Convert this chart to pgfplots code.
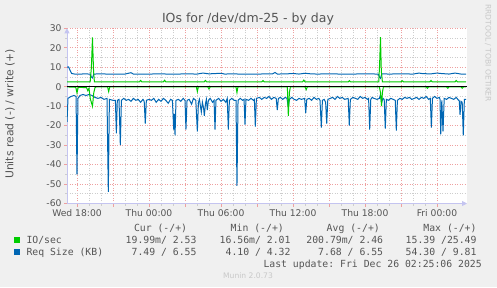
\documentclass[border=0pt]{standalone}
\usepackage{pgfplots}
\pgfplotsset{compat=1.18}
\usetikzlibrary{arrows.meta}
\usepackage{fontspec}
\setmainfont{DejaVu Sans}
\setmonofont{DejaVu Sans Mono}
\definecolor{bg}{HTML}{F0F0F0}
\definecolor{iogreen}{HTML}{00CC00}
\definecolor{reqblue}{HTML}{0066B3}
\definecolor{mgrid}{RGB}{238,160,160}
\definecolor{ngrid}{RGB}{205,205,205}
\definecolor{axblue}{RGB}{196,196,240}
\definecolor{txt}{RGB}{85,85,85}
\definecolor{faint}{RGB}{200,200,200}

\pgfplotstableread{
x y
-0.83 -18
-0.75 -6
-0.5 -5
-0.25 -4.5
-0.08 -5
0.0 -45
0.08 -6
0.25 -4.5
0.5 -4
0.75 -4.5
1.0 -4
1.25 -4.5
1.5 -5.5
1.75 -6
2.0 -5.5
2.25 -6.5
2.5 -6
2.61 -54
2.7 -6.5
3.0 -7
3.2 -7
3.28 -24
3.36 -7
3.5 -6.5
3.61 -30
3.7 -7
3.9 -6
4.1 -7
4.3 -6.5
4.5 -7.5
4.7 -6
4.9 -7
5.1 -6.5
5.3 -8
5.5 -6.5
5.6 -7.5
5.69 -19
5.78 -7
6.0 -6.5
6.2 -7
6.4 -6
6.6 -8
6.8 -6.5
7.0 -7.5
7.2 -6
7.4 -7
7.6 -8.5
7.8 -6.5
7.95 -7
8.06 -22
8.12 -14
8.17 -25
8.25 -7
8.45 -6.5
8.65 -7.5
8.85 -6
9.0 -7
9.08 -22
9.17 -7
9.35 -6.5
9.55 -9
9.7 -6
9.9 -7
10.03 -23
10.12 -8
10.2 -6.5
10.36 -13
10.45 -8
10.55 -11
10.61 -15
10.7 -9
10.78 -6.5
10.86 -12
10.95 -7
11.1 -6
11.3 -8
11.42 -7
11.5 -22
11.58 -7
11.8 -6
12.0 -7.5
12.2 -6.5
12.4 -8
12.52 -6
12.61 -22
12.7 -7
12.9 -6
13.1 -7
13.25 -7
13.33 -51
13.42 -7
13.6 -6
13.8 -7
13.92 -6.5
14.0 -19.5
14.08 -6.5
14.3 -7
14.5 -6
14.7 -7
14.78 -6.5
14.86 -20.5
14.95 -6
15.2 -5.5
15.4 -6.5
15.6 -5.5
15.8 -6
16.0 -5
16.2 -6.5
16.4 -5.5
16.6 -6
16.69 -12
16.78 -6
16.95 -5.5
17.15 -6.5
17.35 -5.5
17.5 -6
17.61 -10.5
17.7 -6.5
17.9 -5.5
18.1 -6.5
18.3 -7
18.5 -6
18.7 -6.5
18.97 -6
19.06 -13.5
19.15 -6.5
19.35 -6
19.55 -7
19.75 -5.5
19.95 -6.5
20.15 -6
20.25 -7
20.36 -21
20.45 -7
20.6 -6.5
20.72 -8
20.81 -19
20.9 -6.5
21.1 -6
21.3 -5.5
21.5 -6.5
21.7 -5
21.9 -6
22.1 -5.5
22.3 -6.5
22.6 -6
22.69 -20
22.78 -6.5
23.0 -5.5
23.2 -6
23.4 -6.5
23.6 -5
23.8 -6
24.0 -5.5
24.2 -6.5
24.3 -6
24.39 -22
24.48 -6.5
24.6 -5.5
24.75 -6
25.0 -6.5
25.2 -6
25.29 -4
25.38 -8
25.5 -6
25.6 -6.5
25.69 -21.5
25.78 -6.5
25.95 -7
26.15 -6
26.35 -6.5
26.52 -7
26.61 -22.5
26.7 -7
26.9 -6
27.1 -6.5
27.3 -5.5
27.5 -6
27.7 -5.5
27.9 -6.5
28.1 -6
28.3 -5.5
28.5 -6.5
28.7 -5.5
28.9 -6
29.1 -5
29.3 -6.5
29.44 -6
29.53 -21
29.62 -6
29.8 -5
30.0 -6
30.2 -5.5
30.25 -6.5
30.31 -24.5
30.4 -7
30.5 -23
30.6 -6
30.8 -6.5
31.0 -5.5
31.2 -6
31.4 -6.5
31.6 -5.5
31.8 -7
31.85 -7
31.92 -14.5
32.0 -7.5
32.1 -8
32.19 -25
32.28 -6.5
32.42 -6.5
}\reqread

\pgfplotstableread{
x y
-0.83 10
-0.7 10.2
-0.55 8
-0.45 6.8
-0.2 6.5
0.3 6.5
0.8 6.6
1.1 6.4
1.2 5
1.29 4.5
1.4 6.5
2.0 6.6
3.0 6.4
4.0 6.5
4.5 7.2
4.7 6.5
6.0 6.5
7.0 6.6
8.0 6.4
9.0 6.6
10.0 6.5
10.5 7.0
11.0 6.6
12.0 6.9
12.3 6.5
13.0 6.6
14.0 6.4
15.0 6.5
16.3 6.6
16.5 7.3
16.7 6.5
17.5 6.6
18.0 6.8
18.5 6.5
19.0 6.9
19.5 6.6
20.0 6.5
21.0 6.6
22.0 6.5
23.0 6.5
24.0 6.6
25.1 6.5
25.2 5
25.29 4.3
25.4 6.6
26.0 6.5
27.0 6.6
28.0 6.5
28.5 7.0
28.8 6.7
29.5 6.6
30.0 7.0
30.3 6.8
31.0 6.5
31.5 7.0
32.0 6.5
32.42 6.5
}\reqwrite

\pgfplotstableread{
x y
-0.83 2.5
1.1 2.5
1.2 10
1.29 25.3
1.38 8
1.45 2.5
5.2 2.5
5.3 3.2
5.4 2.5
7.2 2.5
7.3 3.3
7.4 2.5
10.6 2.5
10.7 3.2
10.8 2.5
15.4 2.5
15.5 3.1
15.6 2.5
18.8 2.5
18.9 3.4
19.0 2.5
22.6 2.5
22.7 3.1
22.8 2.5
25.15 2.5
25.22 12
25.29 25.5
25.36 8
25.45 2.5
27.0 2.5
27.1 3.1
27.2 2.5
29.4 2.5
29.5 3.2
29.6 2.5
31.5 2.5
31.6 3.2
31.7 2.5
32.42 2.5
}\iowrite

\pgfplotstableread{
x y
-0.83 -0.1
-0.1 -0.3
0.0 -3.3
0.1 -0.3
0.8 -0.5
0.9 -2
1.0 -0.8
1.1 -6
1.29 -10
1.4 -3
1.5 -0.5
1.6 -0.1
2.55 -0.1
2.64 -2.5
2.73 -0.1
9.95 -0.1
10.03 -2.5
10.11 -0.1
10.9 -0.1
11.0 -1.2
11.1 -0.1
13.25 -0.1
13.33 -3
13.41 -0.1
17.53 -0.1
17.61 -15
17.7 -3
17.78 -0.1
19.0 -0.1
19.1 -1.5
19.2 -0.1
25.2 -0.1
25.29 -3
25.38 -10
25.45 -3
25.53 -0.1
29.1 -0.1
29.2 -0.8
29.3 -0.1
30.8 -0.1
30.9 -0.8
31.0 -0.1
32.0 -0.1
32.1 -0.8
32.2 -0.1
32.42 -0.1
}\ioread

\begin{document}
\begin{tikzpicture}
\fill[bg] (0pt,0pt) rectangle (497pt,287pt);
\useasboundingbox (0pt,0pt) rectangle (497pt,287pt);
\begin{axis}[
  at={(67pt,83.5pt)}, anchor=south west,
  scale only axis, width=400pt, height=175.2pt,
  xmin=-0.833, xmax=32.5, ymin=-60, ymax=30,
  axis background/.style={fill=white},
  axis x line=bottom, axis y line=left,
  axis line style={draw=axblue, line width=0.8pt},
  x axis line style={-{Triangle[length=5pt,width=5pt]}},
  y axis line style={-{Triangle[length=5pt,width=5pt]}},
  xtick={0,3,...,30},
  xticklabels={Wed 18:00,,Thu 00:00,,Thu 06:00,,Thu 12:00,,Thu 18:00,,Fri 00:00},
  minor x tick num=2,
  ytick={-60,-50,...,30},
  yticklabels={-60,-50,-40,-30,-20,-10,0,10,20,30},
  minor y tick num=1,
  grid=both,
  major grid style={draw=mgrid, line width=0.6pt, dash pattern=on 1pt off 1.5pt},
  minor grid style={draw=ngrid, line width=0.6pt, dash pattern=on 1pt off 1.5pt},
  tick align=outside,
  major tick length=3pt, minor tick length=2pt,
  major tick style={draw=mgrid, line width=0.6pt},
  minor tick style={draw=ngrid, line width=0.6pt},
  tick label style={font=\fontsize{9.2}{10}\selectfont, text=txt},
  yticklabel style={xshift=1pt},
  xticklabel style={yshift=1pt},
  clip=true,
]
\addplot[reqblue, line width=1pt] table[x=x,y=y] {\reqread};
\addplot[reqblue, line width=1pt] table[x=x,y=y] {\reqwrite};
\addplot[iogreen, line width=1pt] table[x=x,y=y] {\ioread};
\addplot[iogreen, line width=1pt] table[x=x,y=y] {\iowrite};
\addplot[black, line width=1pt] coordinates {(-0.833,0) (32.5,0)};
\end{axis}
% title
\node[font=\fontsize{12.5}{14}\selectfont, text=txt] at (248pt,268pt) {IOs for /dev/dm-25 - by day};
% y label
\node[font=\fontsize{10.8}{12}\selectfont, text=txt, rotate=90] at (10pt,173pt) {Units read (-) / write (+)};
% rrdtool
\node[font=\fontsize{7.6}{8}\selectfont, text=faint, rotate=-90, anchor=west, inner sep=0pt] at (488pt,283pt) {RRDTOOL / TOBI OETIKER};
% legend
\begin{scope}[every node/.style={font=\ttfamily\fontsize{9.8}{11}\selectfont, text=txt, inner sep=0pt, anchor=base east}]
\node at (187.3pt,56pt) {Cur (-/+)};
\node at (284pt,56pt) {Min (-/+)};
\node at (380pt,56pt) {Avg (-/+)};
\node at (476.7pt,56pt) {Max (-/+)};
\node[anchor=base west] at (26.3pt,43.7pt) {IO/sec};
\node at (196.7pt,43.7pt) {19.99m/ 2.53};
\node at (290.7pt,43.7pt) {16.56m/ 2.01};
\node at (383.3pt,43.7pt) {200.79m/ 2.46};
\node at (476.7pt,43.7pt) {15.39 /25.49};
\node[anchor=base west] at (26.3pt,31.7pt) {Req Size (KB)};
\node at (196.7pt,31.7pt) {7.49 / 6.55};
\node at (290.7pt,31.7pt) {4.10 / 4.32};
\node at (383.3pt,31.7pt) {7.68 / 6.55};
\node at (476.7pt,31.7pt) {54.30 / 9.81};
\node at (482pt,20pt) {Last update: Fri Dec 26 02:25:06 2025};
\end{scope}
\fill[iogreen] (14pt,44.3pt) rectangle (20pt,50.3pt);
\fill[reqblue] (14pt,32.3pt) rectangle (20pt,38.3pt);
\node[font=\fontsize{7.6}{8}\selectfont, text=faint] at (248pt,11pt) {Munin 2.0.73};
\end{tikzpicture}
\end{document}
